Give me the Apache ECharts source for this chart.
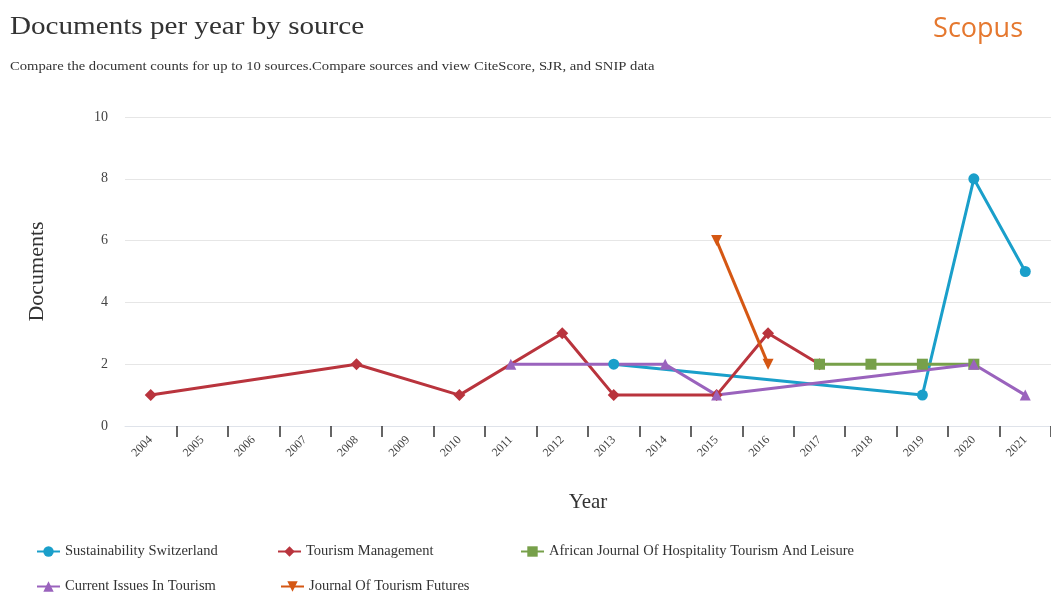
<!DOCTYPE html>
<html>
<head>
<meta charset="utf-8">
<script src="https://cdn.jsdelivr.net/npm/echarts@6/dist/echarts.min.js"></script>
<style>html,body{margin:0;padding:0;background:#fff;}#c{width:1051px;height:594px;}</style>
</head>
<body>
<div id="c"></div>
<script>
const years = ['2004','2005','2006','2007','2008','2009','2010','2011','2012','2013','2014','2015','2016','2017','2018','2019','2020','2021'];
const sustainabilitySwitzerland = [null,null,null,null,null,null,null,null,null,2,null,null,null,null,null,1,8,5];
const tourismManagement = [1,null,null,null,2,null,1,null,3,1,null,1,3,2,null,null,null,null];
const africanJournal = [null,null,null,null,null,null,null,null,null,null,null,null,null,2,2,2,2,null];
const currentIssues = [null,null,null,null,null,null,null,2,null,null,2,1,null,null,null,null,2,1];
const journalFutures = [null,null,null,null,null,null,null,null,null,null,null,6,2,null,null,null,null,null];
const yTicks = [0,2,4,6,8,10];
const seriesNames = ['Sustainability Switzerland','Tourism Management','African Journal Of Hospitality Tourism And Leisure','Current Issues In Tourism','Journal Of Tourism Futures'];

const serif = '"Liberation Serif", "DejaVu Serif", serif';
function mk(name, data, color, symbol, rotate){
  return {name, type:'line', data, connectNulls:true, symbol, symbolSize: symbol==='diamond'?12:11,
    symbolRotate: rotate||0, lineStyle:{width:3,color}, itemStyle:{color}, z: 2};
}
const legendPos = [[36,544],[277,544],[520,544],[36,579],[280,579]];
const legends = seriesNames.map((n,i)=>({
  left:legendPos[i][0], top:legendPos[i][1], itemWidth:23, itemHeight:13, itemGap:4, padding:0,
  textStyle:{fontFamily:serif,fontSize:14.5,color:'#333'}, data:[n]
}));
const chart = echarts.init(document.getElementById('c'));
chart.setOption({
  backgroundColor:'#fff',
  animation:false,
  graphic:[
    {type:'text', left:10, top:14, scaleX:1.12, style:{text:'Documents per year by source', font:'26px "Liberation Serif"', fill:'#333'}},
    {type:'text', left:10, top:61, scaleX:1.22, style:{text:'Compare the document counts for up to 10 sources.Compare sources and view CiteScore, SJR, and SNIP data', font:'12px "Liberation Serif"', fill:'#333'}},
    {type:'text', right:28, top:16, style:{text:'Scopus', font:'27px "Open Sans", "Liberation Sans", sans-serif', fill:'#e5782f'}}
  ],
  grid:{left:125, right:-3, top:117, bottom:168, containLabel:false},
  legend:legends,
  xAxis:{
    type:'category', data:years, boundaryGap:true,
    name:'Year', nameLocation:'middle', nameGap:66,
    nameTextStyle:{fontFamily:serif,fontSize:21,color:'#333'},
    axisLine:{show:true,lineStyle:{color:'#dfe3ea',width:1}},
    axisTick:{show:true,length:11,lineStyle:{color:'#333',width:1.5},interval:function(i){return i!==0;}},
    axisLabel:{rotate:45,fontFamily:serif,fontSize:12,color:'#444',margin:12,interval:0}
  },
  yAxis:{
    type:'value', min:yTicks[0], max:yTicks[yTicks.length-1], interval:2,
    name:'Documents', nameLocation:'middle', nameGap:77, nameRotate:90,
    nameTextStyle:{fontFamily:serif,fontSize:22,color:'#333'},
    axisLine:{show:false}, axisTick:{show:false},
    axisLabel:{fontFamily:serif,fontSize:14,color:'#444',margin:17},
    splitLine:{lineStyle:{color:'#e6e6e6',width:1}}
  },
  series:[
    mk(seriesNames[0], sustainabilitySwitzerland, '#1a9fca', 'circle'),
    mk(seriesNames[1], tourismManagement, '#b9343d', 'diamond'),
    mk(seriesNames[2], africanJournal, '#77a04a', 'rect'),
    mk(seriesNames[3], currentIssues, '#9a63bd', 'triangle'),
    mk(seriesNames[4], journalFutures, '#d55713', 'triangle', 180)
  ]
});
</script>
</body>
</html>
